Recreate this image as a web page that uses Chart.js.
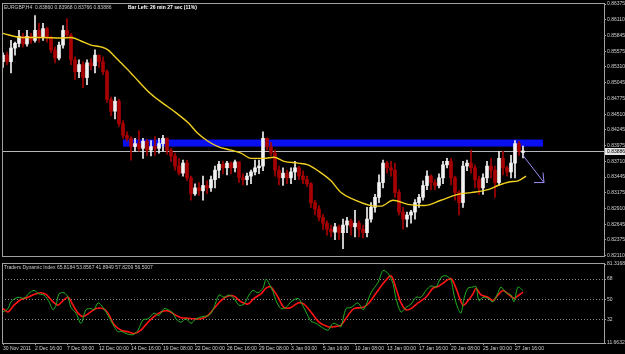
<!DOCTYPE html>
<html lang="en">
<head>
<meta charset="UTF-8">
<title>EURGBP,H4</title>
<script src="https://cdn.jsdelivr.net/npm/chart.js"></script>
<style>
    body {
        margin: 0;
        background: #000;
        width: 625px;
        height: 354px;
        overflow: hidden;
        position: relative;
        font-family: "Liberation Sans", Arial, sans-serif;
    }
    canvas { position: absolute; left: 0; }
    #priceChart { top: 0; }
    #tdiChart { top: 260px; }
    .label {
        position: absolute;
        font-size: 5px;
        line-height: 6px;
        color: #c8c8c8;
        white-space: pre;
    }
</style>
</head>
<body>
<canvas id="priceChart" width="625" height="260"></canvas>
<canvas id="tdiChart" width="625" height="94"></canvas>
<div class="label" style="left:4px; top:4px;">EURGBP,H4  0.83860 0.83968 0.83766 0.83886</div>
<div class="label" style="left:128px; top:4px; color:#fff; font-weight:bold;">Bar Left: 26 min 27 sec (11%)</div>
<div class="label" style="left:4px; top:264px;">Traders Dynamic Index 65.8184 53.8567 41.8949 57.8209 56.5007</div>

<script>
// one candle = two H4 bars, candle j sits on bar 2*j
const candleOpen = [
    0.8540, 0.8551, 0.8540, 0.8563, 0.8571, 0.8583, 0.8570, 0.8583, 0.8576, 0.8593,
    0.8581, 0.8596, 0.8580, 0.8560, 0.8546, 0.8568, 0.8593, 0.8585, 0.8543, 0.8523,
    0.8535, 0.8513, 0.8538, 0.8533, 0.8551, 0.8540, 0.8523, 0.8476, 0.8456, 0.8473,
    0.8435, 0.8415, 0.8410, 0.8396, 0.8401, 0.8393, 0.8405, 0.8390, 0.8396, 0.8393,
    0.8401, 0.8410, 0.8390, 0.8380, 0.8363, 0.8351, 0.8368, 0.8343, 0.8316, 0.8326,
    0.8321, 0.8330, 0.8326, 0.8340, 0.8356, 0.8366, 0.8360, 0.8368, 0.8360, 0.8370,
    0.8343, 0.8340, 0.8346, 0.8353, 0.8360, 0.8363, 0.8410, 0.8396, 0.8385, 0.8356,
    0.8343, 0.8351, 0.8343, 0.8353, 0.8360, 0.8346, 0.8340, 0.8333, 0.8301, 0.8290,
    0.8276, 0.8266, 0.8256, 0.8251, 0.8260, 0.8250, 0.8263, 0.8270, 0.8260, 0.8266,
    0.8256, 0.8250, 0.8273, 0.8293, 0.8310, 0.8335, 0.8368, 0.8360, 0.8356, 0.8318,
    0.8285, 0.8273, 0.8280, 0.8285, 0.8301, 0.8310, 0.8330, 0.8346, 0.8335, 0.8330,
    0.8343, 0.8365, 0.8371, 0.8343, 0.8318, 0.8301, 0.8363, 0.8368, 0.8360, 0.8340,
    0.8326, 0.8343, 0.8363, 0.8356, 0.8335, 0.8376, 0.8360, 0.8353, 0.8368, 0.8401,
    0.83860
];
const candleHigh = [
    0.8555, 0.8556, 0.8576, 0.8573, 0.8593, 0.8588, 0.8593, 0.8588, 0.8618, 0.8605,
    0.8605, 0.8598, 0.8583, 0.8565, 0.8573, 0.8601, 0.8613, 0.8588, 0.8548, 0.8543,
    0.8540, 0.8543, 0.8545, 0.8560, 0.8551, 0.8548, 0.8526, 0.8480, 0.8480, 0.8476,
    0.8440, 0.8421, 0.8413, 0.8410, 0.8423, 0.8410, 0.8408, 0.8406, 0.8413, 0.8410,
    0.8415, 0.8411, 0.8393, 0.8385, 0.8376, 0.8373, 0.8373, 0.8346, 0.8333, 0.8335,
    0.8346, 0.8338, 0.8346, 0.8363, 0.8371, 0.8371, 0.8371, 0.8370, 0.8373, 0.8370,
    0.8350, 0.8351, 0.8356, 0.8373, 0.8373, 0.8421, 0.8411, 0.8403, 0.8390, 0.8363,
    0.8360, 0.8356, 0.8360, 0.8371, 0.8363, 0.8355, 0.8346, 0.8335, 0.8305, 0.8296,
    0.8281, 0.8270, 0.8263, 0.8266, 0.8263, 0.8273, 0.8276, 0.8273, 0.8288, 0.8270,
    0.8263, 0.8293, 0.8301, 0.8315, 0.8348, 0.8373, 0.8371, 0.8371, 0.8368, 0.8323,
    0.8293, 0.8285, 0.8288, 0.8306, 0.8315, 0.8338, 0.8355, 0.8348, 0.8340, 0.8350,
    0.8371, 0.8376, 0.8376, 0.8346, 0.8321, 0.8371, 0.8373, 0.8390, 0.8365, 0.8346,
    0.8350, 0.8371, 0.8376, 0.8363, 0.8388, 0.8388, 0.8363, 0.8381, 0.8406, 0.8405,
    0.83968
];
const candleLow = [
    0.8530, 0.8535, 0.8521, 0.8551, 0.8565, 0.8565, 0.8566, 0.8571, 0.8573, 0.8573,
    0.8576, 0.8573, 0.8555, 0.8538, 0.8543, 0.8563, 0.8580, 0.8535, 0.8510, 0.8513,
    0.8496, 0.8501, 0.8526, 0.8521, 0.8530, 0.8518, 0.8471, 0.8448, 0.8443, 0.8430,
    0.8410, 0.8405, 0.8373, 0.8388, 0.8388, 0.8376, 0.8381, 0.8380, 0.8381, 0.8385,
    0.8388, 0.8383, 0.8371, 0.8356, 0.8348, 0.8346, 0.8338, 0.8305, 0.8313, 0.8313,
    0.8305, 0.8316, 0.8320, 0.8326, 0.8343, 0.8350, 0.8348, 0.8350, 0.8353, 0.8335,
    0.8331, 0.8331, 0.8333, 0.8348, 0.8350, 0.8355, 0.8390, 0.8380, 0.8346, 0.8331,
    0.8330, 0.8333, 0.8333, 0.8340, 0.8340, 0.8333, 0.8328, 0.8293, 0.8280, 0.8270,
    0.8255, 0.8246, 0.8243, 0.8238, 0.8238, 0.8223, 0.8250, 0.8246, 0.8243, 0.8243,
    0.8241, 0.8243, 0.8268, 0.8285, 0.8301, 0.8326, 0.8351, 0.8346, 0.8310, 0.8280,
    0.8256, 0.8260, 0.8266, 0.8273, 0.8293, 0.8305, 0.8323, 0.8323, 0.8323, 0.8326,
    0.8333, 0.8360, 0.8331, 0.8305, 0.8280, 0.8293, 0.8355, 0.8351, 0.8326, 0.8315,
    0.8315, 0.8335, 0.8343, 0.8310, 0.8330, 0.8348, 0.8346, 0.8343, 0.8343, 0.8381,
    0.83766
];
const candleClose = [
    0.8551, 0.8540, 0.8563, 0.8571, 0.8583, 0.8570, 0.8583, 0.8576, 0.8593, 0.8581,
    0.8596, 0.8580, 0.8560, 0.8546, 0.8568, 0.8593, 0.8585, 0.8543, 0.8523, 0.8535,
    0.8513, 0.8538, 0.8533, 0.8551, 0.8540, 0.8523, 0.8476, 0.8456, 0.8473, 0.8435,
    0.8415, 0.8410, 0.8396, 0.8401, 0.8393, 0.8405, 0.8390, 0.8396, 0.8393, 0.8401,
    0.8410, 0.8390, 0.8380, 0.8363, 0.8351, 0.8368, 0.8343, 0.8316, 0.8326, 0.8321,
    0.8330, 0.8326, 0.8340, 0.8356, 0.8366, 0.8360, 0.8368, 0.8360, 0.8370, 0.8343,
    0.8340, 0.8346, 0.8353, 0.8360, 0.8363, 0.8410, 0.8396, 0.8385, 0.8356, 0.8343,
    0.8351, 0.8343, 0.8353, 0.8360, 0.8346, 0.8340, 0.8333, 0.8301, 0.8290, 0.8276,
    0.8266, 0.8256, 0.8251, 0.8260, 0.8250, 0.8263, 0.8270, 0.8260, 0.8266, 0.8256,
    0.8250, 0.8273, 0.8293, 0.8310, 0.8335, 0.8368, 0.8360, 0.8356, 0.8318, 0.8285,
    0.8273, 0.8280, 0.8285, 0.8301, 0.8310, 0.8330, 0.8346, 0.8335, 0.8330, 0.8343,
    0.8365, 0.8371, 0.8343, 0.8318, 0.8301, 0.8363, 0.8368, 0.8360, 0.8340, 0.8326,
    0.8343, 0.8363, 0.8356, 0.8335, 0.8376, 0.8360, 0.8353, 0.8368, 0.8401, 0.8388,
    0.83886
];

// moving average (yellow), read at these bar positions
const maBar = [0, 9, 19, 29, 34, 39, 44, 49, 52.5, 55.5, 59, 62.5, 65.5, 74, 80.5, 85.5, 93, 97.5,
    102.5, 107.5, 114, 119, 124, 130.5, 135.5, 140.5, 147.5, 152.5, 157.5, 164, 169, 175.5, 184,
    189, 195, 202.5, 210.5, 219, 227.5, 234, 242.5, 247.5, 253, 257.5, 261.5];
const maValue = [0.8588, 0.8581, 0.8581, 0.8580, 0.8581, 0.8575, 0.8568, 0.8565, 0.8560, 0.8550,
    0.8538, 0.8526, 0.8515, 0.8485, 0.8468, 0.8456, 0.8435, 0.8418, 0.8405, 0.8396, 0.8390,
    0.8385, 0.8376, 0.8376, 0.8378, 0.8371, 0.8368, 0.8365, 0.8355, 0.8338, 0.8318, 0.8306,
    0.8296, 0.8295, 0.8305, 0.8298, 0.8296, 0.8305, 0.8315, 0.8318, 0.8323, 0.8330, 0.8336,
    0.8338, 0.8346];

// Traders Dynamic Index: green price line and red signal line
const greenBar = [0, 2.5, 4, 7.5, 10.5, 13, 15.5, 18, 20.5, 23, 25, 26.5, 28, 30.5, 32.5, 34, 36.5,
    39, 41.5, 44, 45.5, 47.5, 50, 52.5, 55, 57.5, 59, 61.5, 65, 67.5, 70, 72.5, 75.5, 78, 80.5,
    82.5, 85, 86.5, 89, 91.5, 94, 96.5, 100, 103, 105.5, 108, 110.5, 113, 115.5, 118, 120.5, 123,
    125, 127.5, 130, 131.5, 133, 135, 136.5, 139, 141.5, 144, 147.5, 149.5, 151.5, 154, 156.5,
    159, 162.5, 165, 167.5, 169, 171.5, 174, 177.5, 180, 181.5, 184, 187.5, 190, 192.5, 195,
    196.5, 199, 201.5, 204, 206.5, 209, 211.5, 214, 216.5, 219, 221.5, 224, 225.5, 227.5, 229,
    230.5, 232.5, 235, 236.5, 238, 240, 242.5, 245, 247.5, 249, 251.5, 254, 255.5, 257.5, 260];
const greenValue = [39, 42, 48, 52, 51, 55.5, 58, 55, 54, 48, 41, 45, 55, 56, 52, 43, 38,
    29, 41, 42, 41, 47, 43, 36, 28, 21.5, 22, 20, 19, 23, 32, 33, 38, 36, 42,
    41, 38, 33, 30, 33, 29, 33, 35, 36, 43, 54, 52, 54, 51, 45, 46, 54,
    58, 56, 60, 68, 64, 57, 49, 42, 43, 48, 51, 46, 39, 31, 29,
    26, 23, 29, 27.5, 26, 42, 43, 47, 41, 45, 56, 65, 75.5, 73, 64,
    51, 39, 43, 46, 52, 52, 58, 62, 61, 69.5, 71, 67, 54, 42, 38,
    51, 60, 61, 61.5, 49, 52, 51, 48, 56, 61, 56, 54, 48, 61, 57.8209];
const redBar = [0, 2.5, 5.5, 9, 12.5, 15.5, 19, 21.5, 25, 27.5, 30, 32.5, 35, 37.5, 40, 43, 46.5,
    50, 52.5, 55.5, 59, 62.5, 65.5, 69, 72.5, 75.5, 79, 82.5, 85.5, 89, 92.5, 95.5, 99, 102.5,
    105.5, 109, 112.5, 115.5, 119, 122.5, 125.5, 129, 131.5, 134, 137.5, 140.5, 144, 147.5,
    150.5, 154, 158, 162.5, 165.5, 169, 172.5, 175.5, 180, 183, 186.5, 190.5, 194, 196.5, 199,
    201.5, 204, 207.5, 211.5, 215, 217.5, 220.5, 224, 226.5, 230, 232.5, 235, 236.5, 239, 242.5,
    245, 247.5, 250, 252.5, 255.5, 258, 260];
const redValue = [42, 39, 45, 50, 52, 54.5, 56, 54.5, 48, 45, 49, 52, 45, 38, 35, 38, 42,
    42, 38, 28, 23, 21.5, 20, 23, 30, 35, 39, 40, 37, 34, 33.5, 33, 33, 36,
    42, 49, 53, 53, 48, 46, 51, 55, 60, 61, 52, 43, 43, 47,
    46, 39, 30, 26, 26, 27.5, 36, 42, 43, 47, 55.5, 65, 71, 60, 47,
    41, 42, 47, 52, 60, 61.5, 65, 68.5, 60, 45, 49, 55, 60, 54, 52,
    49, 54, 58, 55, 51, 54, 56.5007];

// objects drawn on the price chart
const zoneBars = [60, 270];
const zonePrices = [0.8396, 0.8408];
const bidPrice = 0.83886;
const arrowBars = [260, 270.5];
const arrowPrices = [0.8381, 0.8335];

// axes
const priceTicks = [0.86377, 0.8611, 0.85843, 0.85577, 0.8531, 0.85043, 0.84777, 0.8451, 0.84243,
    0.83977, 0.8371, 0.83443, 0.83177, 0.8291, 0.82643, 0.82377, 0.8211];
const priceTickLabels = ['0.86375', '0.86110', '0.85845', '0.85575', '0.85310', '0.85045', '0.84775',
    '0.84510', '0.84245', '0.83975', '0.83710', '0.83445', '0.83175', '0.82910', '0.82645',
    '0.82375', '0.82110'];
const tdiTicks = [81.3168, 68, 50, 32, 11.6632];
const tdiTickLabels = ['81.3168', '68', '50', '32', '11.6632'];
const tdiLevels = [68, 50, 32];
const timeTickBars = [0, 16, 32, 48, 64, 80, 96, 112, 128, 144, 160, 176, 192, 208, 224, 240, 256];
const timeTickLabels = ['30 Nov 2011', '2 Dec 16:00', '7 Dec 08:00', '12 Dec 00:00', '14 Dec 16:00',
    '19 Dec 08:00', '22 Dec 00:00', '26 Dec 16:00', '29 Dec 08:00', '3 Jan 00:00', '5 Jan 16:00',
    '10 Jan 08:00', '13 Jan 00:00', '17 Jan 16:00', '20 Jan 08:00', '25 Jan 00:00', '27 Jan 16:00'];

const axisFont = { family: '"Liberation Sans", Arial, sans-serif', size: 5 };
const axisColor = '#d0d0d0';
const lineColor = '#a0a0a0';

const candleColor = candleClose.map((c, j) => c >= candleOpen[j] ? '#f2f2f2' : '#a80000');
const wickData = candleClose.map((c, j) => ({ x: j * 2, y: [candleLow[j], candleHigh[j]] }));
const bodyData = candleClose.map((c, j) => ({ x: j * 2, y: [candleOpen[j], c] }));
const maData = maBar.map((b, i) => ({ x: b, y: maValue[i] }));
const greenData = greenBar.map((b, i) => ({ x: b, y: greenValue[i] }));
const redData = redBar.map((b, i) => ({ x: b, y: redValue[i] }));

const framePlugin = {
    id: 'frame',
    afterDraw(chart) {
        const { ctx, chartArea: a } = chart;
        ctx.save();
        ctx.strokeStyle = lineColor;
        ctx.lineWidth = 1;
        ctx.strokeRect(Math.round(a.left) + 0.5, Math.round(a.top) - 0.5,
            Math.round(a.right - a.left), Math.round(a.bottom - a.top) + 1);
        ctx.restore();
    }
};

const objectsPlugin = {
    id: 'objects',
    beforeDatasetsDraw(chart) {
        const { ctx, chartArea: a, scales: { x, y } } = chart;
        ctx.save();
        // resistance zone
        const zx0 = x.getPixelForValue(zoneBars[0]);
        const zx1 = x.getPixelForValue(zoneBars[1]);
        const zy0 = y.getPixelForValue(zonePrices[1]);
        const zy1 = y.getPixelForValue(zonePrices[0]);
        ctx.fillStyle = '#0a0ff0';
        ctx.fillRect(zx0, zy0, zx1 - zx0, zy1 - zy0);
        // bid line
        const by = Math.round(y.getPixelForValue(bidPrice)) + 0.5;
        ctx.strokeStyle = '#b8b8b8';
        ctx.beginPath();
        ctx.moveTo(a.left, by);
        ctx.lineTo(a.right, by);
        ctx.stroke();
        ctx.restore();
    },
    afterDatasetsDraw(chart) {
        const { ctx, scales: { x, y } } = chart;
        const x0 = x.getPixelForValue(arrowBars[0]);
        const y0 = y.getPixelForValue(arrowPrices[0]);
        const x1 = x.getPixelForValue(arrowBars[1]);
        const y1 = y.getPixelForValue(arrowPrices[1]);
        ctx.save();
        ctx.strokeStyle = '#9d8cf2';
        ctx.lineWidth = 1;
        ctx.beginPath();
        ctx.moveTo(x0, y0);
        ctx.lineTo(x1, y1);
        ctx.moveTo(x1 - 10, y1);
        ctx.lineTo(x1, y1);
        ctx.lineTo(x1 - 1, y1 - 10);
        ctx.stroke();
        ctx.restore();
    },
    afterDraw(chart) {
        const { ctx, chartArea: a, scales: { y } } = chart;
        const by = Math.round(y.getPixelForValue(bidPrice));
        ctx.save();
        ctx.fillStyle = '#e4e4e4';
        ctx.fillRect(a.right + 1, by - 3, 20, 7);
        ctx.fillStyle = '#000';
        ctx.font = '5px "Liberation Sans", Arial, sans-serif';
        ctx.textBaseline = 'middle';
        ctx.fillText(bidPrice.toFixed(5), a.right + 3, by + 0.5);
        ctx.restore();
    }
};

new Chart(document.getElementById('priceChart'), {
    type: 'bar',
    data: {
        datasets: [{
            data: wickData,
            backgroundColor: candleColor,
            barThickness: 1,
            grouped: false,
            order: 3
        }, {
            data: bodyData,
            backgroundColor: candleColor,
            barThickness: 3,
            minBarLength: 1,
            grouped: false,
            order: 2
        }, {
            type: 'line',
            data: maData,
            borderColor: '#f0d020',
            borderWidth: 1.4,
            pointRadius: 0,
            cubicInterpolationMode: 'monotone',
            order: 1
        }]
    },
    options: {
        responsive: false,
        animation: false,
        events: [],
        layout: { padding: { left: 2, top: 3, right: 0, bottom: 1 } },
        plugins: { legend: { display: false }, tooltip: { enabled: false } },
        scales: {
            x: { type: 'linear', min: -0.5, max: 300.5, offset: false, display: false },
            y: {
                position: 'right',
                min: 0.82105,
                max: 0.86377,
                afterBuildTicks: s => { s.ticks = priceTicks.map(v => ({ value: v })); },
                afterFit: s => { s.width = 21; },
                ticks: {
                    callback: (v, i) => priceTickLabels[i],
                    font: axisFont,
                    color: axisColor,
                    padding: 1
                },
                grid: { drawOnChartArea: false, tickLength: 2, tickColor: lineColor },
                border: { color: lineColor }
            }
        }
    },
    plugins: [objectsPlugin, framePlugin]
});

new Chart(document.getElementById('tdiChart'), {
    type: 'line',
    data: {
        datasets: [{
            data: greenData,
            borderColor: '#22b022',
            borderWidth: 1,
            pointRadius: 0,
            tension: 0.3
        }, {
            data: redData,
            borderColor: '#ff1414',
            borderWidth: 1.6,
            pointRadius: 0,
            tension: 0.3
        }]
    },
    options: {
        responsive: false,
        animation: false,
        events: [],
        layout: { padding: { left: 2, top: 3, right: 0, bottom: 0 } },
        plugins: { legend: { display: false }, tooltip: { enabled: false } },
        scales: {
            x: {
                type: 'linear',
                min: -0.5,
                max: 300.5,
                afterBuildTicks: s => { s.ticks = timeTickBars.map(v => ({ value: v })); },
                afterFit: s => { s.height = 11; },
                ticks: {
                    callback: (v, i) => timeTickLabels[i],
                    align: 'start',
                    autoSkip: false,
                    maxRotation: 0,
                    font: axisFont,
                    color: axisColor,
                    padding: 1
                },
                grid: { drawOnChartArea: false, tickLength: 2, tickColor: lineColor },
                border: { color: lineColor }
            },
            y: {
                position: 'right',
                min: 11.6632,
                max: 81.3168,
                afterBuildTicks: s => { s.ticks = tdiTicks.map(v => ({ value: v })); },
                afterFit: s => { s.width = 21; },
                ticks: {
                    callback: (v, i) => tdiTickLabels[i],
                    font: axisFont,
                    color: axisColor,
                    padding: 1
                },
                grid: {
                    color: c => (c.tick && tdiLevels.includes(c.tick.value)) ? '#8a8a8a' : 'transparent',
                    tickLength: 2,
                    tickColor: lineColor
                },
                border: { color: lineColor, dash: [1, 2] }
            }
        }
    },
    plugins: [framePlugin]
});
</script>
</body>
</html>
